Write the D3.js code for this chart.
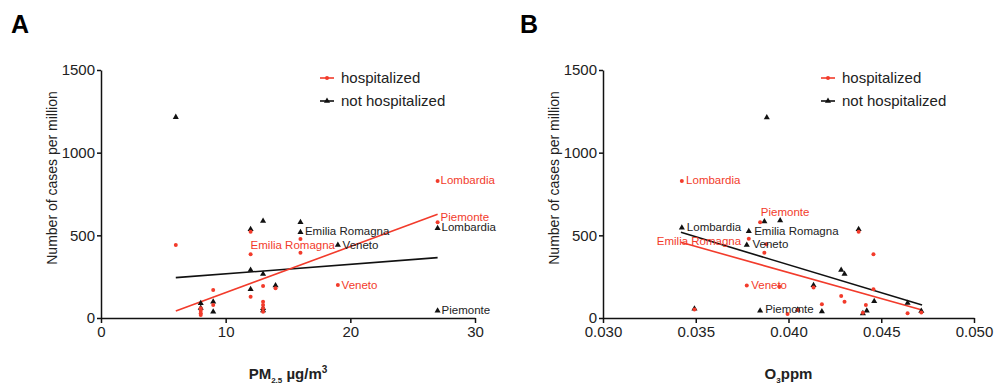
<!DOCTYPE html>
<html>
<head>
<meta charset="utf-8">
<script src="https://cdn.jsdelivr.net/npm/d3@7"></script>
<style>
  body { margin: 0; background: #fff; }
  svg { font-family: Arial, "Liberation Sans", sans-serif; }
  .axis path, .axis line { stroke: #111; stroke-width: 1.5; }
  .axis text { font-size: 15px; fill: #222; }
</style>
</head>
<body>
<div id="chart"></div>
<script>
(function(){
    // ---- data ----
    var yTicks = [0, 500, 1000, 1500];
    var pmTicks = [0, 10, 20, 30];
    var o3Ticks = [0.030, 0.035, 0.040, 0.045, 0.050];

    // panel A: PM2.5 (ug/m3) vs cases per million
    var pmHosp = [[6,441],[8,59],[8,44],[8,28],[8,18],[9,169],[9,79],[12,522],[12,385],[12,129],
                  [13,194],[13,99],[13,79],[13,59],[13,38],[14,180],[16,478],[16,395],[19,200],[27,829],[27,579]];
    var pmNot  = [[6,1215],[8,89],[8,60],[9,98],[9,38],[12,537],[12,290],[12,174],[13,587],[13,266],
                  [13,59],[13,45],[14,196],[16,579],[16,518],[19,441],[27,543],[27,44]];
    var pmFitHosp = [[6,42],[27,627]];
    var pmFitNot  = [[6,244],[27,365]];
    var pmLabels = [
        { text: 'Lombardia',      red: true,  x: 27.24, y: 835 },
        { text: 'Piemonte',       red: true,  x: 27.24, y: 611 },
        { text: 'Lombardia',      red: false, x: 27.32, y: 550 },
        { text: 'Piemonte',       red: false, x: 27.32, y: 50 },
        { text: 'Emilia Romagna', red: false, x: 16.36, y: 526 },
        { text: 'Emilia Romagna', red: true,  x: 12.0,  y: 442 },
        { text: 'Veneto',         red: false, x: 19.38, y: 442 },
        { text: 'Veneto',         red: true,  x: 19.3,  y: 200 }
    ];

    // panel B: O3 (ppm) vs cases per million
    var o3Hosp = [[0.03425,829],[0.03847,579],[0.03786,480],[0.0388,446],[0.0387,395],[0.03775,196],
                  [0.0395,190],[0.04135,185],[0.04458,385],[0.04378,522],[0.04284,133],[0.04302,99],
                  [0.04458,174],[0.0418,83],[0.04417,79],[0.04401,32],[0.04642,28],[0.04716,34],
                  [0.03995,24],[0.0405,48],[0.03493,52]];
    var o3Not  = [[0.03883,1212],[0.03425,546],[0.0387,583],[0.03955,589],[0.03786,524],[0.03775,441],
                  [0.04378,537],[0.04284,290],[0.04302,266],[0.04135,198],[0.04462,101],[0.04642,91],
                  [0.04716,42],[0.03847,44],[0.03493,56],[0.0405,50],[0.0418,40],[0.04401,28],[0.04422,44]];
    var o3FitHosp = [[0.0342,458],[0.0472,48]];
    var o3FitNot  = [[0.0342,518],[0.0472,79]];
    var o3Labels = [
        { text: 'Lombardia',      red: true,  x: 0.03448, y: 835 },
        { text: 'Lombardia',      red: false, x: 0.03452, y: 550 },
        { text: 'Piemonte',       red: true,  x: 0.03851, y: 641 },
        { text: 'Emilia Romagna', red: false, x: 0.03815, y: 526 },
        { text: 'Veneto',         red: false, x: 0.03806, y: 448 },
        { text: 'Emilia Romagna', red: true,  x: 0.0329,  y: 468 },
        { text: 'Veneto',         red: true,  x: 0.03799, y: 200 },
        { text: 'Piemonte',       red: false, x: 0.03874, y: 54 }
    ];

    var RED = '#f23b2b';
    var BLACK = '#111';

    var svg = d3.select('#chart').append('svg')
        .attr('width', 998).attr('height', 385);

    function drawPanel(cfg) {
        var g = svg.append('g');
        var x = d3.scaleLinear().domain(cfg.xDomain).range([cfg.left, cfg.right]);
        var y = d3.scaleLinear().domain([0, 1500]).range([318, 70]);

        // panel letter
        g.append('text')
            .attr('x', cfg.letterX).attr('y', 33)
            .style('font-size', '25px').style('font-weight', 'bold')
            .text(cfg.letter);

        // axes
        g.append('g').attr('class', 'axis')
            .attr('transform', 'translate(0,318)')
            .call(d3.axisBottom(x).tickValues(cfg.xTicks).tickFormat(cfg.xFormat)
                  .tickSizeInner(5).tickSizeOuter(0).tickPadding(3));
        g.append('g').attr('class', 'axis')
            .attr('transform', 'translate(' + cfg.left + ',0)')
            .call(d3.axisLeft(y).tickValues(yTicks).tickFormat(d3.format('d'))
                  .tickSizeInner(4).tickSizeOuter(0).tickPadding(2));

        // y title
        g.append('text')
            .attr('transform', 'translate(' + (cfg.left - 44) + ',178) rotate(-90)')
            .attr('text-anchor', 'middle')
            .style('font-size', '14px').style('fill', '#222')
            .text('Number of cases per million');

        // x title (bold, with sub/superscripts)
        var xt = g.append('text')
            .attr('x', (cfg.left + cfg.right) / 2).attr('y', 379)
            .attr('text-anchor', 'middle')
            .style('font-size', '15px').style('font-weight', 'bold').style('fill', '#222');
        cfg.xTitle(xt);

        // fit lines
        var line = d3.line().x(function(d){ return x(d[0]); }).y(function(d){ return y(d[1]); });
        g.append('path').datum(cfg.fitNot).attr('d', line)
            .attr('fill', 'none').attr('stroke', BLACK).attr('stroke-width', 1.6);
        g.append('path').datum(cfg.fitHosp).attr('d', line)
            .attr('fill', 'none').attr('stroke', RED).attr('stroke-width', 1.6);

        // points
        var tri = d3.symbol().type(d3.symbolTriangle).size(16);
        g.selectAll('.tri').data(cfg.notData).enter().append('path')
            .attr('class', 'tri')
            .attr('transform', function(d){ return 'translate(' + x(d[0]) + ',' + y(d[1]) + ')'; })
            .attr('d', tri).attr('fill', BLACK);
        g.selectAll('.dot').data(cfg.hospData).enter().append('circle')
            .attr('class', 'dot')
            .attr('cx', function(d){ return x(d[0]); })
            .attr('cy', function(d){ return y(d[1]); })
            .attr('r', 2).attr('fill', RED);

        // point labels
        g.selectAll('.lbl').data(cfg.labels).enter().append('text')
            .attr('class', 'lbl')
            .attr('x', function(d){ return x(d.x); })
            .attr('y', function(d){ return y(d.y); })
            .attr('dy', '0.35em')
            .style('font-size', '11.5px')
            .style('fill', function(d){ return d.red ? RED : '#222'; })
            .text(function(d){ return d.text; });

        // legend
        var lx = cfg.legendX;
        var items = [
            { name: 'hospitalized', color: RED, red: true, yy: 78 },
            { name: 'not hospitalized', color: BLACK, red: false, yy: 101 }
        ];
        items.forEach(function(it){
            g.append('line')
                .attr('x1', lx).attr('x2', lx + 14)
                .attr('y1', it.yy).attr('y2', it.yy)
                .attr('stroke', it.color).attr('stroke-width', 1.6);
            if (it.red) {
                g.append('circle').attr('cx', lx + 7).attr('cy', it.yy).attr('r', 2).attr('fill', RED);
            } else {
                g.append('path').attr('d', tri)
                    .attr('transform', 'translate(' + (lx + 7) + ',' + it.yy + ')')
                    .attr('fill', BLACK);
            }
            g.append('text')
                .attr('x', lx + 21).attr('y', it.yy).attr('dy', '0.35em')
                .style('font-size', '15px').style('fill', '#222')
                .text(it.name);
        });
    }

    drawPanel({
        letter: 'A', letterX: 11,
        left: 101, right: 475,
        xDomain: [0, 30], xTicks: pmTicks, xFormat: d3.format('d'),
        hospData: pmHosp, notData: pmNot,
        fitHosp: pmFitHosp, fitNot: pmFitNot,
        labels: pmLabels,
        legendX: 320,
        xTitle: function(t){
            t.append('tspan').text('PM');
            t.append('tspan').attr('dy', 4).style('font-size', '8px').text('2.5');
            t.append('tspan').attr('dy', -4).text(' µg/m');
            t.append('tspan').attr('dy', -6).style('font-size', '10px').text('3');
        }
    });

    drawPanel({
        letter: 'B', letterX: 520,
        left: 603, right: 974,
        xDomain: [0.030, 0.050], xTicks: o3Ticks, xFormat: d3.format('.3f'),
        hospData: o3Hosp, notData: o3Not,
        fitHosp: o3FitHosp, fitNot: o3FitNot,
        labels: o3Labels,
        legendX: 821,
        xTitle: function(t){
            t.append('tspan').text('O');
            t.append('tspan').attr('dy', 4).style('font-size', '8px').text('3');
            t.append('tspan').attr('dy', -4).text('ppm');
        }
    });
})();
</script>
</body>
</html>
